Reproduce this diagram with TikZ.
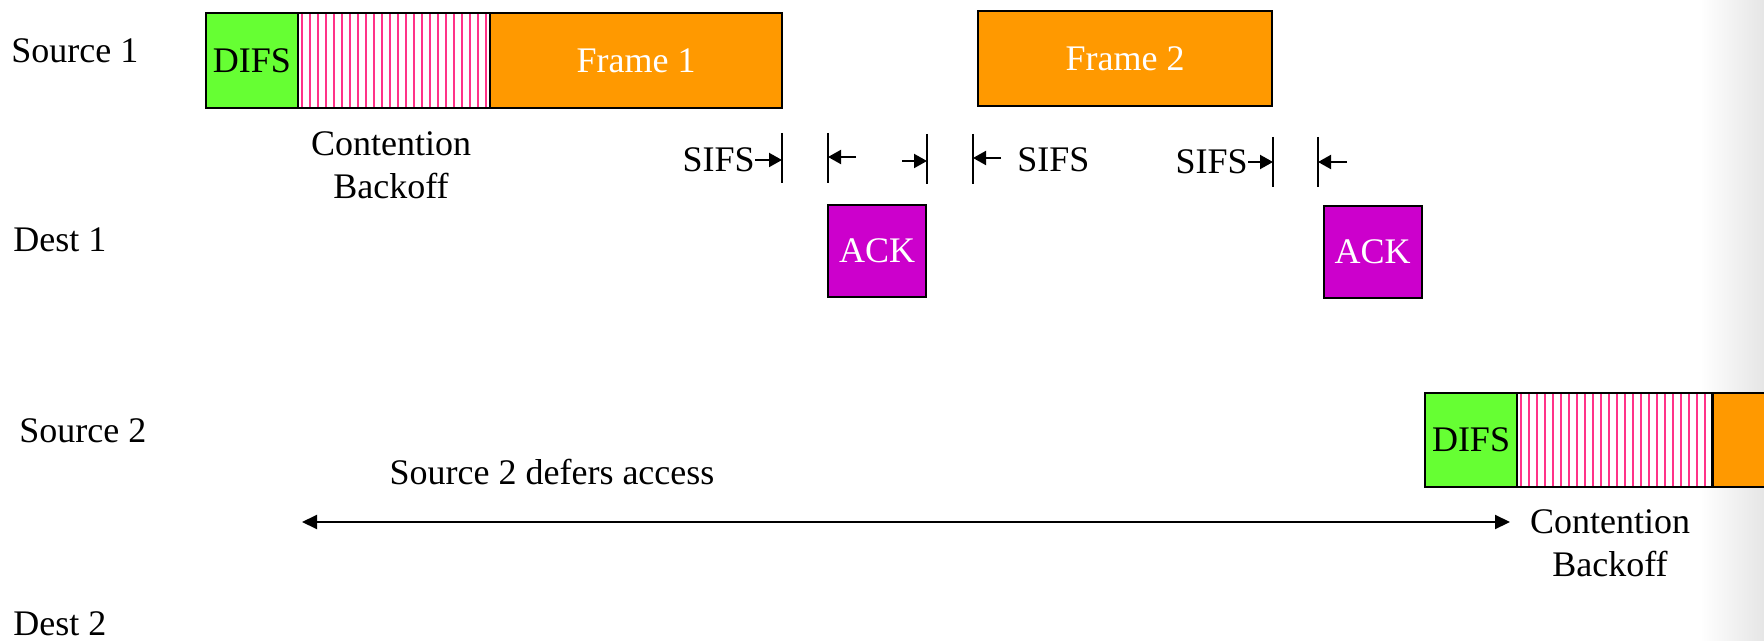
\documentclass[tikz,border=0pt]{standalone}
\usepackage{fontspec}
\setmainfont{Liberation Serif}
\usetikzlibrary{arrows.meta}

\definecolor{difsgreen}{HTML}{66FF33}
\definecolor{frameorange}{HTML}{FF9900}
\definecolor{ackmagenta}{HTML}{CC00CC}
\definecolor{stripepink}{HTML}{FF3388}

\tikzset{
	slot/.style={draw, line width=1pt, inner sep=0pt, minimum height=47.5pt},
	difs/.style={slot, fill=difsgreen, minimum width=46pt},
	backoff/.style={slot, fill=white, minimum width=96pt, path picture={
			\foreach \i in {0,...,23}
				\draw[stripepink, line width=1.25pt] ([xshift=2pt+\i*4pt]path picture bounding box.south west) -- ([xshift=2pt+\i*4pt]path picture bounding box.north west);
		}},
	framebox/.style={slot, fill=frameorange, text=white},
	ack/.style={slot, fill=ackmagenta, text=white, minimum width=49pt, minimum height=46pt},
	rowname/.style={anchor=west, inner sep=0pt},
	sifsbar/.style={line width=1pt},
	sifsarrow/.style={-{Triangle[length=6.5pt,width=7pt]}, line width=1pt},
	longarrow/.style={{Triangle[length=7.5pt,width=7pt]}-{Triangle[length=7.5pt,width=7pt]}, line width=1pt}
}

\begin{document}
\begin{tikzpicture}[x=0.5pt, y=-0.5pt, font=\fontsize{18}{21.6}\selectfont]
	\clip (0,0) rectangle (1764,641);
	\fill[white] (0,0) rectangle (1764,641);
	\shade[left color=white, right color=black!10] (1700,0) rectangle (1764,641);

	% row names
	\node[rowname] (src1) at (11,51) {Source 1};
	\node[rowname] (dst1) at (13,240) {Dest 1};
	\node[rowname] (src2) at (19,431) {Source 2};
	\node[rowname] (dst2) at (13,624) {Dest 2};

	% source 1
	\node[difs] (D1) at (252,60.5) {DIFS};
	\node[backoff] (B1) at (394,60.5) {};
	\node[framebox, minimum width=146pt] (F1) at (636,60.5) {Frame 1};
	\node[framebox, minimum width=147pt] (F2) at (1125,59) {Frame 2};
	\node[align=center] (cb1) at (391,165) {Contention\\Backoff};

	% dest 1
	\node[ack] (A1) at (877,251) {ACK};
	\node[ack] (A2) at (1372.5,252) {ACK};

	% sifs marks
	\coordinate (b1) at (782,158);
	\coordinate (b2) at (828,158);
	\coordinate (b3) at (927,159);
	\coordinate (b4) at (973,159);
	\coordinate (b5) at (1273,162);
	\coordinate (b6) at (1318,162);
	\foreach \b in {b1,b2,b3,b4,b5,b6}
		\draw[sifsbar] ([yshift=12.5pt]\b) -- ([yshift=-12.5pt]\b);

	\node[anchor=east, inner sep=0pt] (S1) at (755,160) {SIFS};
	\node[anchor=west, inner sep=0pt] (S2) at (1017,160) {SIFS};
	\node[anchor=east, inner sep=0pt] (S3) at (1248,162) {SIFS};
	\coordinate (t2) at (856,157);
	\coordinate (t3) at (902,161);
	\coordinate (t4) at (1001,158);
	\coordinate (t6) at (1347,162);

	\draw[sifsarrow] (S1.east) -- (S1.east -| b1);
	\draw[sifsarrow] (t2) -- (t2 -| b2);
	\draw[sifsarrow] (t3) -- (t3 -| b3);
	\draw[sifsarrow] (t4) -- (t4 -| b4);
	\draw[sifsarrow] (S3.east) -- (S3.east -| b5);
	\draw[sifsarrow] (t6) -- (t6 -| b6);

	% source 2
	\node[difs, minimum height=47pt] (D2) at (1471,440) {DIFS};
	\node[backoff, minimum height=47pt, minimum width=97.5pt] (B2) at (1614.5,440) {};
	\node[framebox, minimum height=47pt, minimum width=60pt, anchor=west] (F3) at (1712,440) {};
	\node[align=center] (cb2) at (1610,543) {Contention\\Backoff};

	\node (defer) at (552,472) {Source 2 defers access};
	\coordinate (l) at (302,522);
	\coordinate (r) at (1510,522);
	\draw[longarrow] (l) -- (r);
\end{tikzpicture}
\end{document}
